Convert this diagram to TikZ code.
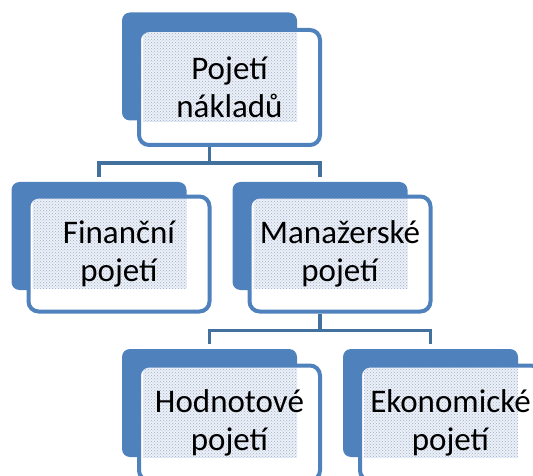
\documentclass[tikz,border=0pt]{standalone}
\usepackage{fontspec}
\setmainfont{Carlito}
\usetikzlibrary{calc,patterns}
\definecolor{boxblue}{RGB}{79,129,189}
\definecolor{linkblue}{RGB}{65,113,156}
\definecolor{dotgray}{RGB}{160,176,202}
\definecolor{dotbg}{RGB}{236,240,247}
\tikzset{
  backbox/.style={fill=boxblue, rounded corners=8pt, inner sep=0pt,
    minimum width=175pt, minimum height=108pt},
  frontbox/.style={draw=boxblue, line width=4pt, fill=white, rounded corners=10pt,
    inner sep=0pt, minimum width=181pt, minimum height=115pt, align=center,
    font=\fontsize{33}{38}\selectfont,
    path picture={
      \fill[dotbg, sharp corners] ($(path picture bounding box.north west)+(4,2)$)
        rectangle ($(path picture bounding box.south east)+(-23,-23)$);
      \fill[pattern=crosshatch dots, pattern color=dotgray, sharp corners]
        ($(path picture bounding box.north west)+(4,2)$)
        rectangle ($(path picture bounding box.south east)+(-23,-23)$);
    }},
  link/.style={draw=linkblue, line width=3.5pt}
}
\begin{document}
\begin{tikzpicture}[x=1pt,y=-1pt]
  \useasboundingbox (0,0) rectangle (533,476);
  \clip (0,0) rectangle (533,476);
  % back plates
  \node[backbox] (topb) at (209.5,66.5) {};
  \node[backbox] (finb) at (99,236) {};
  \node[backbox] (manb) at (320,236) {};
  \node[backbox] (hodb) at (209.5,403) {};
  \node[backbox] (ekob) at (430.5,403) {};
  % front boxes
  \node[frontbox] (top) at ($(topb)+(20,21)$) {Pojetí\\nákladů};
  \node[frontbox] (fin) at ($(finb)+(20,18)$) {Finanční\\pojetí};
  \node[frontbox] (man) at ($(manb)+(20,18)$) {Manažerské\\pojetí};
  \node[frontbox] (hod) at ($(hodb)+(20,20)$) {Hodnotové\\pojetí};
  \node[frontbox] (eko) at ($(ekob)+(20,20)$) {Ekonomické\\pojetí};
  % connectors
  \coordinate (j1) at ($(topb.south |- top.south)+(0,16)$);
  \coordinate (j2) at ($(manb.south |- man.south)+(0,17)$);
  \draw[link] (topb.south |- top.south) -- (j1);
  \draw[link, shorten >=5pt] (j1) -| (finb.north);
  \draw[link, shorten >=5pt] (j1) -| (manb.north);
  \draw[link] (manb.south |- man.south) -- (j2);
  \draw[link, shorten >=5pt] (j2) -| (hodb.north);
  \draw[link, shorten >=5pt] (j2) -| (ekob.north);
\end{tikzpicture}
\end{document}
